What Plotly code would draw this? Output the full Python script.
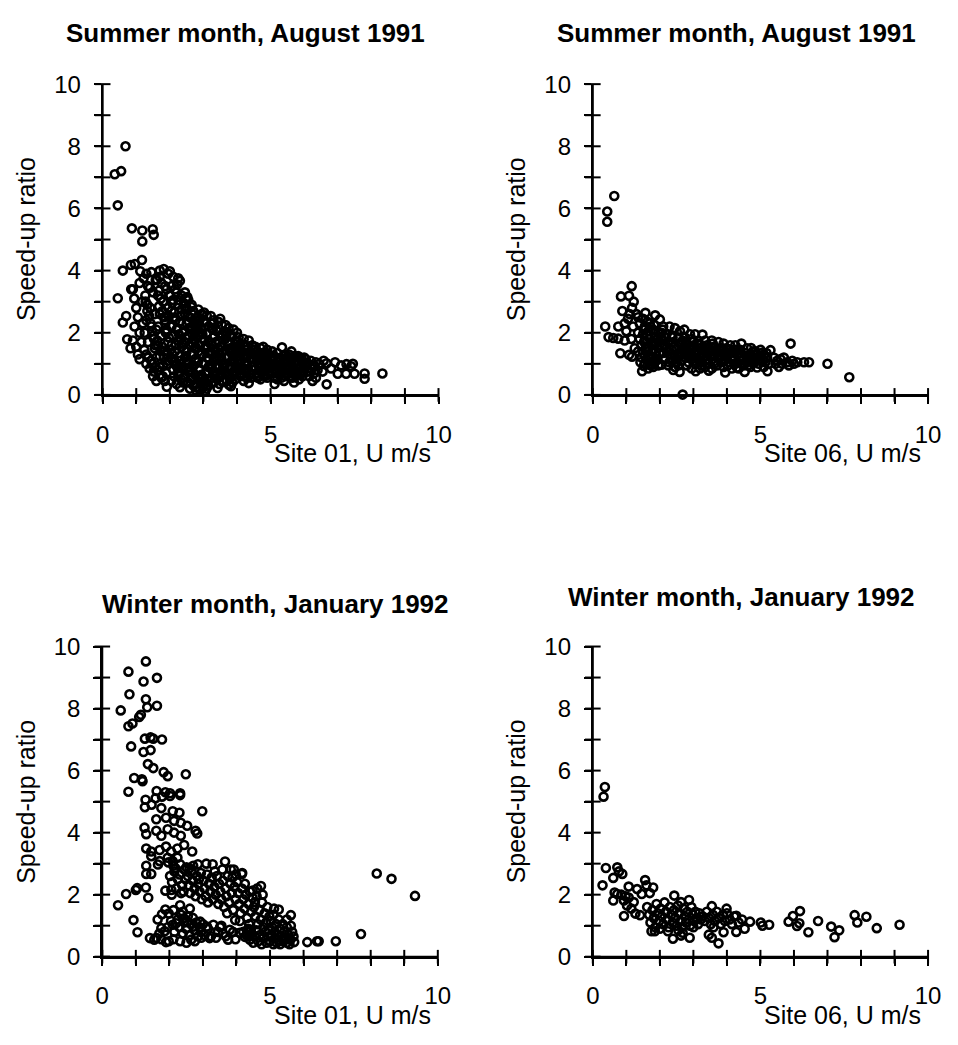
import plotly.graph_objects as go

W, H = 958, 1045

# ---------------- text ----------------
panel_titles = ["Summer month, August 1991", "Summer month, August 1991",
                "Winter month, January 1992", "Winter month, January 1992"]
x_titles = ["Site 01, U m/s", "Site 06, U m/s", "Site 01, U m/s", "Site 06, U m/s"]
y_title = "Speed-up ratio"
tick_vals = [0, 1, 2, 3, 4, 5, 6, 7, 8, 9, 10]
x_tick_text = ["0", "", "", "", "", "5", "", "", "", "", "10"]
y_tick_text = ["0", "", "2", "", "4", "", "6", "", "8", "", "10"]

# ---------------- data: August 1991, site 01 ----------------
aug_s01_u = [
    0.36, 0.55, 0.68, 0.45, 0.45, 0.60, 0.60, 0.70, 0.73, 0.83, 0.85, 0.94, 0.84, 0.96, 0.87,
    1.12, 1.17, 1.18, 1.18, 1.49, 1.52, 0.90, 1.00, 1.05, 0.95, 1.10, 0.90, 1.00, 1.05, 1.10, 1.15, 1.20, 1.18, 1.10,
    1.30, 1.45, 1.35, 1.50, 1.28, 1.42, 1.55, 1.30, 1.45, 1.25, 1.50, 1.35, 1.55, 1.30, 1.45, 1.55, 1.40, 1.50, 1.60, 1.30, 1.58, 1.60, 1.60,
    1.70, 1.82, 1.95, 1.75, 1.90, 1.65, 1.80, 1.95, 1.70, 1.85, 1.65, 1.90, 1.75, 1.95, 1.65, 1.85, 1.70, 1.95, 1.80, 1.65, 1.90, 1.75, 1.91, 1.85, 1.70, 1.98, 1.68, 1.88, 1.72, 1.92,
    2.00, 2.10, 2.25, 2.30, 2.05, 2.20, 2.35, 2.10, 2.25, 2.05, 2.35, 2.15, 2.30, 2.05, 2.20, 2.38, 2.10, 2.25, 2.05, 2.35, 2.15, 2.30, 2.05, 2.20, 2.35, 2.10, 2.25, 2.40, 2.05, 2.20, 2.30, 2.12, 2.28, 2.18, 2.32, 2.10, 2.22,
    2.45, 2.55, 2.65, 2.50, 2.70, 2.45, 2.60, 2.75, 2.50, 2.65, 2.45, 2.75, 2.55, 2.70, 2.45, 2.60, 2.75, 2.50, 2.65, 2.45, 2.75, 2.55, 2.70, 2.50, 2.60, 2.75, 2.45, 2.65, 2.55, 2.70, 2.60, 2.78, 2.50, 2.68, 2.58, 2.48, 2.64,
    2.85, 2.95, 3.10, 2.90, 3.05, 2.85, 3.15, 2.95, 3.10, 2.85, 3.00, 3.15, 2.90, 3.05, 2.85, 3.20, 2.95, 3.10, 2.85, 3.00, 3.15, 2.90, 3.05, 2.85, 3.10, 2.95, 3.00, 2.90, 3.05, 3.15, 2.98, 3.08, 2.92,
    3.22, 3.30, 3.45, 3.55, 3.25, 3.40, 3.55, 3.30, 3.45, 3.25, 3.50, 3.35, 3.55, 3.25, 3.40, 3.55, 3.30, 3.45, 3.25, 3.55, 3.35, 3.50, 3.25, 3.42, 3.30, 3.58, 3.38, 3.50,
    3.66, 3.75, 3.90, 4.00, 3.70, 3.85, 3.65, 3.95, 3.75, 3.90, 3.65, 3.80, 3.95, 3.70, 3.85, 3.65, 3.95, 3.75, 3.90, 3.65, 3.80, 3.76, 3.82, 3.95, 3.70, 3.88,
    4.05, 4.20, 4.35, 4.10, 4.25, 4.45, 4.05, 4.30, 4.15, 4.40, 4.05, 4.25, 4.45, 4.10, 4.30, 4.15, 4.45, 4.05, 4.25, 4.40, 4.10, 4.30, 4.35, 4.20, 4.48,
    4.55, 4.70, 4.78, 4.90, 4.60, 4.75, 4.95, 4.55, 4.70, 4.85, 4.60, 4.80, 4.95, 4.65, 4.85, 4.55, 4.75, 4.95, 4.60, 4.80, 4.70, 4.90, 4.58,
    5.05, 5.20, 5.34, 5.45, 5.10, 5.30, 5.50, 5.05, 5.20, 5.40, 5.10, 5.30, 5.50, 5.15, 5.35, 5.05, 5.25, 5.45, 5.12, 5.20, 5.40, 5.62,
    5.55, 5.70, 5.85, 5.60, 5.80, 5.95, 5.60, 5.75, 5.90, 5.55, 5.70, 5.90, 5.60, 5.80, 5.95, 5.65, 5.85, 5.70, 6.00,
    6.05, 6.20, 6.35, 6.10, 6.30, 6.05, 6.20, 6.40, 6.10, 6.30, 6.15, 6.35, 6.25, 6.45,
    6.58, 6.67, 6.92, 7.26, 7.40, 6.67, 7.00, 7.25, 7.50, 7.80, 7.80, 8.33, 6.80, 7.10, 6.55, 7.45,
    1.22, 1.27, 1.33, 1.38, 1.43, 1.48, 1.53, 1.57, 1.24, 1.36, 1.47, 1.52, 1.33, 1.41,
    1.62, 1.67, 1.73, 1.78, 1.83, 1.87, 1.92, 1.97, 1.63, 1.77, 1.82, 1.93, 1.69, 1.79, 1.86, 1.96,
    2.02, 2.07, 2.13, 2.17, 2.23, 2.27, 2.33, 2.37, 2.03, 2.08, 2.14, 2.19, 2.24, 2.29, 2.34, 2.39, 2.16, 2.26,
    2.42, 2.47, 2.53, 2.57, 2.63, 2.67, 2.73, 2.77, 2.43, 2.48, 2.54, 2.59, 2.62, 2.69, 2.74, 2.79, 2.52, 2.72,
    2.82, 2.87, 2.93, 2.97, 3.03, 3.07, 3.13, 3.17, 2.83, 2.88, 2.94, 2.99, 3.04, 3.09, 3.14, 3.19, 3.02,
    3.23, 3.28, 3.33, 3.37, 3.43, 3.47, 3.53, 3.57, 3.24, 3.29, 3.36, 3.41, 3.48, 3.53,
    3.62, 3.68, 3.73, 3.78, 3.83, 3.87, 3.93, 3.97, 3.63, 3.72, 3.79, 3.86, 3.92, 3.98,
    4.02, 4.08, 4.13, 4.18, 4.23, 4.28, 4.33, 4.38, 4.43, 4.03, 4.12, 4.22, 4.32, 4.42, 4.47,
    4.52, 4.57, 4.63, 4.68, 4.73, 4.78, 4.83, 4.88, 4.93, 4.98, 4.62, 4.82, 4.72, 4.92,
    5.02, 5.08, 5.13, 5.18, 5.23, 5.28, 5.33, 5.38, 5.43, 5.48, 5.12, 5.32,
    5.52, 5.58, 5.63, 5.68, 5.73, 5.78, 5.83, 5.88, 5.93, 5.98, 6.08, 6.18, 6.28, 5.62, 5.82,
]
aug_s01_ratio = [
    7.10, 7.20, 8.00, 6.10, 3.11, 4.00, 2.33, 2.54, 1.79, 1.50, 3.40, 3.10, 4.18, 4.21, 5.36,
    3.98, 4.34, 5.29, 4.94, 5.33, 5.15, 3.40, 2.80, 2.50, 2.20, 2.00, 1.75, 1.55, 1.30, 1.15, 1.70, 2.30, 3.00, 3.60,
    3.90, 3.95, 3.50, 3.30, 3.00, 2.80, 2.60, 2.40, 2.20, 2.00, 1.90, 1.70, 1.50, 1.30, 1.10, 0.90, 0.85, 0.60, 0.45, 1.00, 3.70, 2.10, 1.20,
    4.00, 4.05, 3.90, 3.60, 3.40, 3.20, 3.00, 2.80, 2.60, 2.40, 2.20, 2.10, 1.90, 1.70, 1.60, 1.40, 1.25, 1.10, 0.95, 0.80, 0.70, 0.55, 0.26, 0.45, 3.80, 3.20, 2.85, 2.00, 1.45, 1.30,
    3.98, 3.80, 3.75, 3.67, 3.50, 3.30, 3.20, 3.05, 2.90, 2.70, 2.75, 2.50, 2.35, 2.20, 2.10, 2.00, 1.90, 1.75, 1.60, 1.55, 1.40, 1.25, 1.15, 1.00, 0.90, 0.80, 0.65, 0.55, 0.45, 0.35, 0.25, 0.60, 1.10, 1.60, 2.55, 2.45, 3.55,
    3.30, 3.05, 2.90, 2.80, 2.70, 2.60, 2.50, 2.40, 2.30, 2.20, 2.05, 2.00, 1.90, 1.80, 1.70, 1.60, 1.50, 1.40, 1.30, 1.20, 1.15, 1.05, 0.95, 0.85, 0.75, 0.65, 0.60, 0.50, 0.40, 0.30, 0.20, 0.15, 1.00, 1.65, 2.15, 3.10, 2.83,
    2.75, 2.60, 2.55, 2.45, 2.35, 2.25, 2.20, 2.10, 2.00, 1.90, 1.80, 1.70, 1.60, 1.50, 1.40, 1.40, 1.30, 1.20, 1.10, 1.00, 0.90, 0.80, 0.70, 0.60, 0.50, 0.40, 0.25, 0.15, 0.10, 0.30, 0.55, 1.60, 2.00,
    2.54, 2.40, 2.35, 2.25, 2.15, 2.05, 1.95, 1.85, 1.75, 1.60, 1.55, 1.45, 1.35, 1.30, 1.20, 1.10, 1.05, 0.95, 0.85, 0.80, 0.70, 0.60, 0.55, 0.22, 0.40, 0.45, 1.65, 2.45,
    2.25, 2.15, 2.10, 2.00, 2.00, 1.90, 1.80, 1.75, 1.65, 1.55, 1.45, 1.40, 1.30, 1.20, 1.10, 1.00, 0.95, 0.85, 0.75, 0.70, 0.60, 0.33, 0.28, 0.50, 0.45, 1.25,
    1.85, 1.80, 1.75, 1.65, 1.60, 1.60, 1.50, 1.45, 1.35, 1.35, 1.25, 1.20, 1.15, 1.10, 1.00, 0.90, 0.90, 0.80, 0.75, 0.70, 0.60, 0.55, 0.38, 0.45, 1.45,
    1.55, 1.50, 1.55, 1.45, 1.40, 1.35, 1.30, 1.25, 1.20, 1.15, 1.10, 1.05, 1.00, 0.95, 0.90, 0.85, 0.80, 0.75, 0.70, 0.65, 0.50, 0.55, 0.60,
    1.40, 1.35, 1.53, 1.30, 1.25, 1.20, 1.15, 1.10, 1.05, 1.00, 0.95, 0.90, 0.85, 0.80, 0.75, 0.70, 0.65, 0.60, 0.35, 0.50, 0.45, 1.40,
    1.30, 1.25, 1.20, 1.15, 1.10, 1.05, 1.00, 0.95, 0.90, 0.85, 0.80, 0.75, 0.70, 0.65, 0.60, 0.55, 0.50, 0.40, 1.20,
    1.15, 1.10, 1.05, 1.00, 0.95, 0.90, 0.85, 0.80, 0.75, 0.70, 0.60, 0.55, 0.45, 1.00,
    1.10, 1.02, 1.05, 0.99, 0.92, 0.34, 0.68, 0.68, 0.68, 0.69, 0.52, 0.69, 0.85, 0.95, 0.75, 1.00,
    3.75, 3.20, 2.90, 2.55, 2.30, 2.05, 1.80, 1.60, 1.45, 1.20, 1.00, 0.75, 2.70, 3.45,
    3.70, 3.35, 3.10, 2.70, 2.50, 2.30, 2.05, 1.85, 1.75, 1.55, 1.20, 1.00, 0.90, 0.60, 3.50, 2.55,
    3.20, 2.95, 2.65, 2.40, 2.15, 1.95, 1.80, 1.65, 1.45, 1.30, 1.10, 0.95, 0.85, 0.70, 0.50, 0.40, 3.40, 3.05,
    2.95, 2.75, 2.55, 2.35, 2.10, 1.95, 1.75, 1.55, 1.45, 1.25, 1.10, 0.90, 0.80, 0.55, 0.35, 0.25, 3.15, 2.25,
    2.50, 2.30, 2.15, 1.95, 1.75, 1.55, 1.35, 1.15, 1.05, 0.85, 0.65, 0.45, 0.35, 0.20, 0.75, 0.95, 2.65,
    2.30, 2.10, 1.90, 1.70, 1.50, 1.35, 1.20, 1.00, 0.95, 0.75, 0.60, 0.50, 0.35, 0.65,
    2.05, 1.90, 1.70, 1.50, 1.35, 1.15, 1.05, 0.85, 0.90, 0.65, 0.50, 0.40, 0.65, 1.45,
    1.70, 1.55, 1.40, 1.25, 1.05, 0.95, 0.85, 0.65, 0.55, 1.00, 0.70, 0.60, 1.25, 1.20, 0.80,
    1.45, 1.30, 1.15, 1.00, 0.90, 0.75, 0.60, 1.25, 1.05, 0.85, 0.55, 1.35, 1.25, 0.65,
    1.20, 1.00, 0.85, 0.70, 1.15, 0.95, 0.80, 1.25, 0.90, 0.70, 0.55, 0.55,
    1.05, 0.90, 1.20, 0.75, 1.05, 0.85, 1.00, 0.65, 1.15, 0.85, 0.95, 0.75, 0.90, 0.60, 1.25,
]

# ---------------- data: August 1991, site 06 ----------------
aug_s06_u = [
    0.64, 0.43, 0.43, 1.16, 0.84, 1.08, 1.22, 0.88, 1.17, 0.37, 0.47, 0.61, 0.76, 0.76, 0.95, 1.00, 1.05, 1.10, 0.82, 1.08, 1.17, 1.47, 1.52, 2.68, 0.95, 1.20, 1.15, 1.30, 1.25,
    1.35, 1.50, 1.57, 1.40, 1.55, 1.70, 1.86, 2.00, 1.35, 1.50, 1.65, 1.80, 1.95, 1.40, 1.55, 1.70, 1.85, 1.45, 1.60, 1.75, 1.90, 1.35, 1.50, 1.65, 1.80, 1.95, 1.45, 1.60, 1.75, 1.90, 1.55, 1.70, 1.85, 1.65, 1.80, 1.95, 1.42,
    2.10, 2.29, 2.45, 2.60, 2.05, 2.20, 2.35, 2.55, 2.10, 2.25, 2.40, 2.60, 2.05, 2.20, 2.35, 2.50, 2.65, 2.10, 2.30, 2.45, 2.60, 2.15, 2.35, 2.50, 2.65, 2.05, 2.25, 2.45, 2.59, 2.40, 2.55,
    2.73, 2.90, 3.05, 3.27, 2.75, 2.95, 3.15, 3.35, 2.80, 3.00, 3.20, 3.40, 2.75, 2.95, 3.10, 3.30, 3.45, 2.85, 3.05, 3.25, 3.40, 2.75, 2.95, 3.15, 3.35, 2.85, 3.05, 3.25, 3.45, 2.95, 3.07, 3.20, 3.46, 3.35, 2.80,
    3.55, 3.75, 3.90, 4.10, 4.25, 3.60, 3.80, 4.00, 4.20, 3.55, 3.70, 3.90, 4.10, 4.30, 3.60, 3.80, 4.00, 4.20, 3.65, 3.85, 4.05, 4.25, 3.70, 3.95, 3.90, 4.15, 3.55, 4.30,
    4.43, 4.60, 4.72, 4.85, 5.00, 4.40, 4.55, 4.70, 4.90, 5.10, 4.45, 4.65, 4.80, 5.00, 5.20, 4.40, 4.60, 4.75, 4.95, 5.15, 4.50, 4.53, 4.70, 4.90, 5.10, 5.21, 4.35, 5.30, 5.25,
    5.40, 5.50, 5.60, 5.70, 5.80, 5.90, 5.95, 6.10, 6.30, 6.45, 5.45, 5.65, 5.85, 6.00, 7.00, 7.65, 5.55,
    1.52, 1.62, 1.72, 1.82, 1.92, 1.58, 1.68, 1.78, 1.88, 1.98, 1.53, 1.63, 1.73, 1.83, 1.93,
    2.03, 2.13, 2.23, 2.33, 2.43, 2.53, 2.63, 2.08, 2.18, 2.28, 2.38, 2.48, 2.58, 2.68,
    2.78, 2.88, 2.98, 3.08, 3.18, 3.28, 3.38, 3.48, 2.83, 2.93, 3.03, 3.13, 3.23, 3.33, 3.43,
    3.58, 3.68, 3.78, 3.88, 3.98, 4.08, 4.18, 4.28, 3.63, 3.73, 3.83, 3.93, 4.03, 4.13, 4.23,
    4.38, 4.48, 4.58, 4.68, 4.78, 4.88, 4.98, 5.08, 5.18, 4.43, 4.63, 4.83, 5.03,
]
aug_s06_ratio = [
    6.40, 5.90, 5.57, 3.50, 3.17, 3.19, 3.00, 2.70, 2.80, 2.20, 1.86, 1.83, 1.81, 2.20, 1.75, 2.05, 2.45, 2.60, 1.34, 1.29, 1.23, 0.76, 0.93, 0.01, 2.30, 2.20, 1.80, 2.60, 1.50,
    2.50, 2.45, 2.64, 2.30, 2.20, 2.30, 2.56, 2.43, 2.00, 1.95, 2.05, 2.10, 2.00, 1.80, 1.75, 1.80, 1.85, 1.60, 1.55, 1.60, 1.65, 1.40, 1.35, 1.40, 1.45, 1.50, 1.20, 1.15, 1.20, 1.25, 1.00, 1.00, 1.05, 0.85, 0.90, 0.95, 1.05,
    2.20, 2.20, 2.15, 2.05, 2.00, 1.95, 1.90, 1.85, 1.75, 1.70, 1.70, 1.65, 1.55, 1.50, 1.45, 1.50, 1.45, 1.35, 1.30, 1.25, 1.25, 1.15, 1.10, 1.05, 1.10, 0.97, 0.95, 0.90, 0.74, 0.80, 0.95,
    2.10, 1.95, 1.95, 1.94, 1.85, 1.80, 1.75, 1.75, 1.65, 1.60, 1.60, 1.60, 1.50, 1.45, 1.45, 1.45, 1.40, 1.30, 1.30, 1.30, 1.25, 1.20, 1.15, 1.15, 1.10, 1.05, 1.00, 0.95, 1.00, 0.85, 0.76, 0.85, 0.78, 0.90, 0.95,
    1.75, 1.70, 1.65, 1.60, 1.60, 1.55, 1.50, 1.50, 1.45, 1.40, 1.35, 1.35, 1.35, 1.30, 1.25, 1.20, 1.20, 1.15, 1.10, 1.05, 1.05, 1.00, 0.95, 0.72, 0.90, 0.85, 0.85, 0.88,
    1.65, 1.50, 1.51, 1.40, 1.45, 1.45, 1.35, 1.30, 1.30, 1.30, 1.25, 1.20, 1.20, 1.15, 1.20, 1.10, 1.05, 1.05, 1.00, 1.05, 0.95, 0.74, 0.90, 0.88, 0.90, 0.76, 0.85, 1.44, 1.00,
    1.20, 1.10, 1.15, 1.20, 1.05, 1.65, 1.10, 1.05, 1.05, 1.05, 1.00, 1.00, 0.95, 1.00, 1.00, 0.57, 0.90,
    2.10, 1.90, 2.20, 1.70, 1.80, 1.50, 1.30, 1.40, 1.10, 1.35, 1.70, 2.35, 0.95, 2.25, 1.15,
    1.85, 1.60, 1.40, 1.20, 1.55, 1.30, 1.60, 2.10, 1.85, 1.05, 1.85, 1.15, 1.35, 1.75,
    1.70, 1.55, 1.70, 1.35, 1.50, 1.20, 1.35, 1.50, 1.40, 1.25, 1.10, 1.65, 1.05, 1.55, 1.15,
    1.65, 1.45, 1.30, 1.50, 1.30, 1.45, 1.25, 1.45, 1.00, 1.20, 1.40, 1.10, 0.95, 1.15, 1.35,
    1.35, 1.15, 1.25, 1.10, 1.40, 1.20, 1.25, 1.10, 1.35, 1.00, 0.95, 1.05, 1.35,
]

# ---------------- data: January 1992, site 01 ----------------
jan_s01_u = [
    1.30, 0.78, 1.23, 1.63, 0.81, 1.30, 1.34, 1.63, 0.55, 1.15, 1.10, 0.78, 0.90, 1.27, 1.44, 1.52, 1.78, 0.86, 1.23, 1.44, 1.36, 1.52, 1.83, 1.95, 2.49, 0.95, 1.18, 1.20, 0.78, 1.62, 1.88, 2.02, 2.32,
    1.29, 1.59, 1.78, 2.02, 2.32, 1.27, 1.47, 1.76, 2.10, 2.30, 2.98, 1.61, 1.90, 2.14, 2.34, 2.53, 1.26, 1.31, 1.61, 1.76, 1.95, 2.14, 2.34, 2.78, 2.83,
    1.31, 1.46, 1.71, 1.90, 2.05, 2.24, 2.44, 2.68, 1.46, 1.71, 1.66, 1.95, 2.10, 2.24, 1.31, 1.31, 1.46, 1.97, 2.12, 2.32, 2.51, 2.71, 2.85, 3.29, 3.66, 3.58, 3.83, 3.98, 4.17,
    2.02, 2.08, 2.15, 2.20, 2.25, 2.30, 2.38, 2.42, 2.45, 2.48, 2.06, 2.18, 2.35, 2.55, 2.58, 2.62, 2.66, 2.70, 2.75, 2.78, 2.82, 2.86, 2.90, 2.94, 2.97, 2.60, 2.88,
    3.02, 3.05, 3.08, 3.12, 3.15, 3.18, 3.22, 3.26, 3.30, 3.34, 3.38, 3.42, 3.46, 3.48, 3.10, 3.35, 3.52, 3.55, 3.60, 3.63, 3.67, 3.70, 3.74, 3.78, 3.82, 3.86, 3.90, 3.94, 3.97, 3.72, 3.88,
    4.02, 4.05, 4.08, 4.12, 4.16, 4.20, 4.24, 4.28, 4.32, 4.36, 4.40, 4.44, 4.48, 4.10, 4.25, 4.38, 4.52, 4.56, 4.60, 4.64, 4.68, 4.72, 4.76, 4.80, 4.84, 4.88, 4.92, 4.96, 4.98, 4.62, 4.78,
    5.02, 5.06, 5.10, 5.14, 5.18, 5.22, 5.26, 5.30, 5.34, 5.38, 5.42, 5.46, 5.50, 5.55, 5.60, 5.66, 5.70, 5.12, 5.50,
    4.40, 4.45, 4.50, 4.55, 4.60, 4.65, 4.70, 4.75, 4.80, 4.85, 4.90, 4.95, 5.00, 5.05, 5.10, 5.15, 5.20, 5.25, 5.30, 5.40, 5.50, 5.58, 4.30, 4.20, 4.35,
    1.78, 1.88, 1.98, 2.12, 2.32, 2.61, 1.76, 1.86, 2.10, 2.20, 2.43, 2.53, 2.73, 2.92, 3.12, 3.31, 3.51, 3.80, 4.09, 4.38, 4.43, 1.61, 1.76, 1.90, 1.98, 2.12, 2.32, 2.51, 2.76, 2.95, 3.24, 3.39, 3.68, 3.97,
    2.25, 2.30, 2.35, 2.40, 2.45, 2.50, 2.55, 2.60, 2.65, 2.70, 2.75, 2.80, 2.85, 2.90, 2.95, 3.00, 3.05, 3.15, 3.20, 3.45, 3.60, 2.05, 2.15, 1.95, 1.65, 1.70, 2.40, 2.65, 3.55, 3.75, 3.90,
    0.47, 0.71, 1.00, 1.04, 1.30, 1.37, 0.93, 1.05, 1.88, 2.07, 1.42, 1.55, 6.11, 6.40, 6.45, 6.96, 7.71, 8.18, 8.62, 9.32, 5.72, 4.16, 3.92, 4.48, 4.73, 5.26, 5.62, 5.62, 4.55, 3.96, 4.25,
]
jan_s01_ratio = [
    9.52, 9.19, 8.87, 8.99, 8.46, 8.30, 8.04, 8.09, 7.94, 7.80, 7.73, 7.43, 7.52, 7.03, 7.07, 7.03, 7.00, 6.78, 6.60, 6.66, 6.21, 6.08, 5.95, 5.82, 5.88, 5.76, 5.72, 5.66, 5.32, 5.34, 5.30, 5.27, 5.27,
    5.06, 5.11, 5.16, 5.18, 5.21, 4.82, 4.90, 4.79, 4.69, 4.64, 4.69, 4.43, 4.48, 4.38, 4.32, 4.22, 4.16, 3.95, 4.06, 3.90, 4.11, 4.00, 3.90, 4.06, 3.97,
    3.49, 3.39, 3.44, 3.55, 3.39, 3.49, 3.60, 3.39, 3.24, 3.08, 2.97, 3.19, 3.08, 3.19, 2.93, 2.67, 2.67, 3.04, 2.93, 2.98, 2.88, 2.93, 2.98, 2.98, 3.07, 2.81, 2.81, 2.65, 2.70,
    2.60, 2.40, 2.75, 2.20, 2.50, 2.65, 2.30, 2.10, 2.80, 2.50, 2.15, 2.85, 2.05, 2.60, 2.30, 2.05, 2.75, 2.45, 2.20, 1.95, 2.60, 2.35, 2.10, 2.70, 1.85, 2.85, 2.50,
    2.45, 2.20, 1.95, 2.65, 1.75, 2.35, 2.10, 2.55, 1.85, 2.25, 2.00, 2.60, 1.70, 2.35, 3.00, 2.75, 2.10, 1.85, 2.45, 1.60, 2.20, 1.95, 2.60, 1.75, 2.35, 2.05, 1.50, 2.25, 1.85, 1.40, 2.55,
    2.40, 2.05, 1.70, 1.40, 2.20, 1.85, 1.55, 2.00, 1.25, 1.70, 2.10, 1.45, 1.90, 1.15, 2.35, 1.05, 1.60, 1.30, 1.95, 1.05, 1.50, 1.20, 1.75, 0.95, 1.40, 1.10, 1.60, 0.85, 1.30, 2.20, 2.00,
    1.15, 0.95, 1.35, 0.80, 1.05, 0.70, 1.20, 0.90, 0.65, 1.05, 0.80, 0.60, 0.95, 0.70, 0.55, 0.80, 0.65, 1.55, 1.20,
    0.55, 0.75, 0.45, 0.65, 0.85, 0.50, 0.70, 0.40, 0.60, 0.80, 0.45, 0.65, 0.50, 0.70, 0.40, 0.60, 0.45, 0.55, 0.40, 0.50, 0.45, 0.40, 0.70, 0.80, 0.90,
    1.37, 1.52, 1.39, 1.50, 1.66, 1.55, 0.92, 0.82, 1.03, 1.08, 1.24, 1.13, 0.97, 1.13, 0.97, 1.03, 0.95, 0.87, 0.77, 0.66, 0.87, 0.61, 0.56, 0.47, 0.50, 0.56, 0.50, 0.45, 0.50, 0.61, 0.66, 0.61, 0.66, 0.56,
    1.20, 0.95, 1.35, 0.75, 1.10, 0.90, 1.30, 0.70, 1.05, 1.25, 0.85, 1.10, 0.65, 0.95, 0.80, 1.05, 0.70, 0.90, 0.60, 0.80, 0.75, 1.15, 0.80, 0.95, 1.20, 0.75, 1.45, 0.55, 1.00, 0.55, 0.80,
    1.66, 2.02, 2.15, 2.21, 2.23, 1.90, 1.18, 0.79, 2.13, 2.00, 0.60, 0.55, 0.47, 0.50, 0.50, 0.50, 0.73, 2.68, 2.51, 1.96, 0.47, 2.67, 2.81, 2.13, 2.28, 1.52, 1.34, 1.00, 1.76, 1.18, 0.64,
]

# ---------------- data: January 1992, site 06 ----------------
jan_s06_u = [
    0.36, 0.32, 0.39, 0.73, 0.78, 0.88, 0.61, 0.29, 0.65, 0.73, 0.61, 0.93, 1.07, 1.02, 1.22, 0.93, 1.07, 1.56, 1.46, 1.32, 1.80, 1.27, 1.41, 0.85, 0.98, 1.15, 1.60, 1.70,
    1.75, 1.85, 2.24, 2.39, 2.63, 2.68, 2.89, 3.46, 3.55, 3.75, 3.90, 4.28, 4.53, 2.43, 2.87, 2.63, 3.55, 3.99, 4.28, 4.69, 5.01, 5.06, 5.26,
    5.84, 5.97, 6.18, 6.09, 6.16, 6.43, 6.72, 7.11, 7.35, 7.21, 7.81, 7.89, 8.16, 8.47, 9.15,
    1.62, 1.68, 1.72, 1.78, 1.82, 1.86, 1.90, 1.94, 1.98, 2.02, 2.06, 2.10, 2.14, 2.18, 2.22, 2.26, 2.30, 2.34, 2.38, 2.42, 2.46, 2.50, 2.54, 2.58, 2.62, 2.66, 2.70, 2.74, 2.78, 2.82,
    2.86, 2.90, 2.94, 2.98, 3.02, 3.06, 3.10, 3.14, 3.18, 3.22, 3.28, 3.34, 3.40, 3.46, 3.52, 3.58, 3.64, 3.70, 3.76, 3.82, 3.88, 3.94, 4.00, 4.08, 4.15, 4.22, 4.35, 4.45, 2.00, 2.55, 3.00, 3.60,
]
jan_s06_ratio = [
    5.47, 5.16, 2.86, 2.88, 2.75, 2.67, 2.54, 2.30, 2.07, 2.02, 1.81, 1.81, 1.91, 1.65, 1.76, 1.31, 2.26, 2.47, 2.02, 2.18, 2.23, 1.39, 1.34, 2.00, 1.95, 1.55, 2.30, 2.05,
    0.82, 0.82, 0.82, 0.58, 0.68, 0.77, 0.61, 0.71, 0.61, 0.43, 0.79, 0.80, 0.90, 1.97, 1.83, 1.76, 1.63, 1.55, 1.32, 1.13, 1.10, 1.00, 1.03,
    1.13, 1.31, 1.47, 0.99, 1.08, 0.79, 1.15, 0.97, 0.85, 0.63, 1.34, 1.10, 1.29, 0.92, 1.03,
    1.60, 1.35, 1.10, 1.50, 1.25, 0.95, 1.70, 1.40, 1.15, 1.55, 1.30, 1.05, 1.75, 1.45, 1.20, 0.95, 1.60, 1.35, 1.10, 1.50, 1.25, 1.00, 1.65, 1.40, 1.15, 0.95, 1.55, 1.30, 1.10, 1.45,
    1.20, 1.00, 1.60, 1.35, 1.15, 1.45, 1.25, 1.05, 1.40, 1.20, 1.30, 1.15, 1.45, 1.25, 1.05, 1.35, 1.15, 1.45, 1.25, 1.05, 1.35, 1.15, 1.40, 1.20, 1.05, 1.30, 1.10, 1.20, 0.90, 0.85, 0.95, 0.95,
]

series = [(aug_s01_u, aug_s01_ratio), (aug_s06_u, aug_s06_ratio),
          (jan_s01_u, jan_s01_ratio), (jan_s06_u, jan_s06_ratio)]
for u, r in series:
    assert len(u) == len(r), (len(u), len(r))

# ---------------- layout (pixel boxes: left, right, top, bottom) ----------------
FONT = "Arial, Liberation Sans, Helvetica, sans-serif"
boxes = [(97.7, 440.7, 72.0, 391.0), (598.3, 940.7, 72.0, 391.0),
         (97.3, 440.0, 649.3, 967.7), (598.3, 940.7, 649.3, 967.7)]
title_pos = [(244, 19.5), (745, 19.5), (274, 606), (750, 598)]
xtitle_right = [435, 936, 435, 936]
LINE = dict(color="black", width=2)

fig = go.Figure()
axes = {}
shapes = []
annotations = []
for k, ((u, r), box) in enumerate(zip(series, boxes)):
    n = k + 1
    xa = "x" if n == 1 else f"x{n}"
    ya = "y" if n == 1 else f"y{n}"
    left, right, top, bottom = box
    fig.add_trace(go.Scatter(
        x=u, y=r, mode="markers", xaxis=xa, yaxis=ya, cliponaxis=False,
        showlegend=False, hoverinfo="skip",
        marker=dict(symbol="circle-open", size=8, color="black",
                    line=dict(width=2.6, color="black"))))
    common = dict(range=[0, 10], showline=True, linewidth=2, linecolor="black",
                  ticks="outside", ticklen=7, tickwidth=2, tickcolor="black",
                  tickvals=tick_vals, showgrid=False, zeroline=False, fixedrange=True,
                  tickfont=dict(family=FONT, size=24, color="black"))
    axes["xaxis" if n == 1 else f"xaxis{n}"] = dict(
        common, domain=[left / W, right / W], anchor=ya,
        ticktext=x_tick_text, ticklabelstandoff=10)
    axes["yaxis" if n == 1 else f"yaxis{n}"] = dict(
        common, domain=[1 - bottom / H, 1 - top / H], anchor=xa,
        ticktext=y_tick_text, ticklabelstandoff=8)
    # axis spines and crossing tick marks (paper coordinates)
    shapes.append(dict(type="line", xref="paper", yref="paper", x0=left / W, x1=right / W,
                       y0=1 - bottom / H, y1=1 - bottom / H, line=LINE, layer="above"))
    shapes.append(dict(type="line", xref="paper", yref="paper", x0=left / W, x1=left / W,
                       y0=1 - bottom / H, y1=1 - top / H, line=LINE, layer="above"))
    for i in tick_vals:
        px = left + i * (right - left) / 10
        py = bottom - i * (bottom - top) / 10
        shapes.append(dict(type="line", xref="paper", yref="paper", x0=px / W, x1=px / W,
                           y0=1 - (bottom + 7) / H, y1=1 - (bottom - 7) / H, line=LINE, layer="above"))
        shapes.append(dict(type="line", xref="paper", yref="paper", x0=(left - 8) / W, x1=(left + 8) / W,
                           y0=1 - py / H, y1=1 - py / H, line=LINE, layer="above"))
    tx, ty = title_pos[k]
    annotations.append(dict(text="<b>" + panel_titles[k] + "</b>", x=tx / W, y=1 - ty / H,
                            xref="paper", yref="paper", xanchor="center", yanchor="middle",
                            showarrow=False, font=dict(family=FONT, size=26, color="black")))
    annotations.append(dict(text=y_title, textangle=-90, x=(left - 78.7) / W,
                            y=1 - (top + bottom) / 2 / H, xref="paper", yref="paper",
                            xanchor="center", yanchor="middle", showarrow=False,
                            font=dict(family=FONT, size=25, color="black")))
    annotations.append(dict(text=x_titles[k], x=xtitle_right[k] / W, y=1 - (bottom + 60) / H,
                            xref="paper", yref="paper", xanchor="right", yanchor="middle",
                            showarrow=False, font=dict(family=FONT, size=25, color="black")))

fig.update_layout(width=W, height=H, margin=dict(l=0, r=0, t=0, b=0),
                  paper_bgcolor="white", plot_bgcolor="white",
                  shapes=shapes, annotations=annotations, **axes)
fig.write_html("out.html")
